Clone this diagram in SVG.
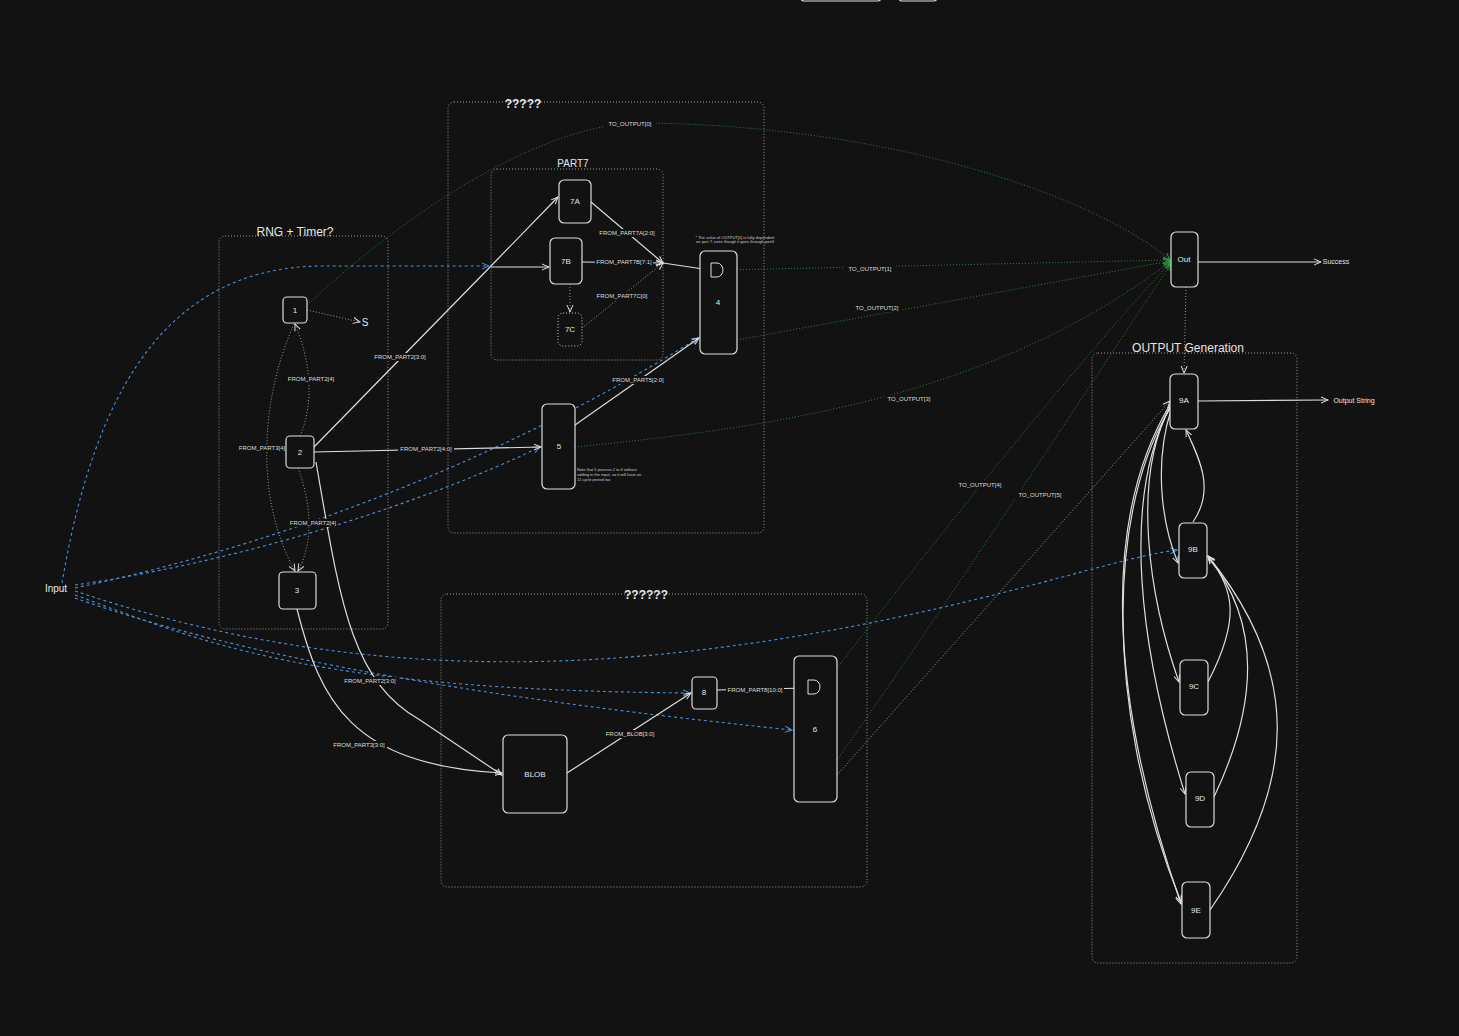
<svg xmlns="http://www.w3.org/2000/svg" width="1459" height="1036" viewBox="0 0 1459 1036">
<defs>
<marker id="aw" markerWidth="8" markerHeight="8" refX="7" refY="4" orient="auto" markerUnits="userSpaceOnUse"><path d="M0,1 L7,4 L0,7" fill="none" stroke="#ddd" stroke-width="1"/></marker>
<marker id="ab" markerWidth="8" markerHeight="8" refX="7" refY="4" orient="auto" markerUnits="userSpaceOnUse"><path d="M0,1 L7,4 L0,7" fill="none" stroke="#4a90d9" stroke-width="1"/></marker>
<marker id="ag" markerWidth="8" markerHeight="8" refX="7" refY="4" orient="auto" markerUnits="userSpaceOnUse"><path d="M0,1 L7,4 L0,7" fill="none" stroke="#2f9a3f" stroke-width="1"/></marker>
</defs>
<style>
text{font-family:"Liberation Sans",Arial,sans-serif;fill:#e6e6e6;text-anchor:middle}
.grp{fill:none;stroke:#999;stroke-width:1;stroke-dasharray:1 2}
.nd{fill:#121212;stroke:#ddd;stroke-width:1.2}
.ndd{fill:#121212;stroke:#ccc;stroke-width:1;stroke-dasharray:1 2}
.t{font-size:12px;font-weight:bold}
.n{font-size:8px}
.l{font-size:6px;fill:#ddd}
.w{fill:none;stroke:#ddd;stroke-width:1.2;marker-end:url(#aw)}
.wd{fill:none;stroke:#bbb;stroke-width:0.8;stroke-dasharray:1 2;marker-end:url(#aw)}
.b{fill:none;stroke:#4a90d9;stroke-width:1.1;stroke-dasharray:3 3;marker-end:url(#ab)}
.g{fill:none;stroke:#2f8a3a;stroke-width:0.9;stroke-dasharray:1 2;marker-end:url(#ag)}
.lb{fill:#121212;stroke:none}
.gate{fill:none;stroke:#ddd;stroke-width:1}
</style>
<rect width="1459" height="1036" fill="#121212"/>
<rect x="801" y="-10" width="80" height="11" rx="3" class="nd"/>
<rect x="899" y="-10" width="38" height="11" rx="3" class="nd"/>

<g id="groups">
<rect x="219" y="236" width="169" height="393" rx="6" class="grp"/>
<text x="295" y="236" style="font-size:12px">RNG + Timer?</text>
<rect x="448" y="102" width="316" height="431" rx="6" class="grp"/>
<text x="523" y="108" class="t">?????</text>
<rect x="491" y="169" width="172" height="191" rx="6" class="grp"/>
<text x="573" y="167" style="font-size:10px">PART7</text>
<rect x="441" y="594" width="426" height="293" rx="6" class="grp"/>
<text x="646" y="599" class="t">??????</text>
<rect x="1092" y="353" width="205" height="610" rx="6" class="grp"/>
<text x="1188" y="352" style="font-size:12px">OUTPUT Generation</text>
</g>

<g id="connectors">
<path class="b" d="M62,583 C90,420 150,268 320,266 L489,266"/>
<path class="b" d="M75,588 C300,540 520,450 698,338"/>
<path class="b" d="M75,585 C250,560 430,500 540,447"/>
<path class="b" d="M75,591 C250,650 450,680 700,650 S1100,560 1177,550"/>
<path class="b" d="M75,595 C200,640 300,690 690,693"/>
<path class="b" d="M75,598 C250,660 500,700 792,730"/>

<path class="g" d="M307,305 C420,200 550,123 640,123 C900,125 1100,200 1170,260"/>
<path class="g" d="M725,270 L1170,260"/>
<path class="g" d="M737,340 L1170,261"/>
<path class="g" d="M575,447 C800,425 1000,390 1170,262"/>
<path class="g" d="M822,688 C950,520 1080,360 1170,263"/>
<path class="g" d="M837,760 C950,600 1080,400 1171,264"/>
<path class="wd" d="M837,775 L1170,401"/>
<path class="wd" d="M1186,287 L1184,373"/>
<path class="wd" d="M307,310 L360,322"/>

<path class="w" d="M314,447 L491,266 L558,197"/>
<path class="w" d="M491,267 L549,267"/>
<path class="w" d="M314,452 L541,447"/>
<path class="w" d="M316,462 C340,600 350,680 420,720 L502,775"/>
<path class="w" d="M297,609 C320,700 350,765 502,773"/>
<path class="wd" d="M300,436 C315,400 310,360 295,324"/>
<path class="wd" d="M294,324 C260,400 255,500 295,571"/>
<path class="wd" d="M298,468 C310,500 315,540 298,571"/>
<path class="w" d="M591,202 L663,263"/>
<path class="w" d="M582,262 L663,263"/>
<path class="wd" d="M570,284 L570,312"/>
<path class="wd" d="M582,328 L663,263"/>
<path class="w" d="M663,263 L710,270"/>
<path class="w" d="M575,425 L699,338"/>
<path class="w" d="M700,340 L736,337"/>
<path class="w" d="M567,773 L691,693"/>
<path class="w" d="M717,690 L807,688"/>
<path class="w" d="M1198,262 L1321,262"/>
<path class="w" d="M1198,401 L1328,400"/>

<path class="w" d="M1171,410 C1155,460 1160,520 1178,563"/>
<path class="w" d="M1193,522 C1215,490 1200,460 1186,430"/>
<path class="w" d="M1171,405 C1130,480 1150,600 1179,682"/>
<path class="w" d="M1171,405 C1120,500 1140,650 1185,794"/>
<path class="w" d="M1171,403 C1100,520 1110,700 1181,904"/>
<path class="w" d="M1173,404 C1110,500 1100,700 1181,902"/>
<path class="w" d="M1208,682 C1240,620 1235,590 1208,556"/>
<path class="w" d="M1214,797 C1260,700 1260,620 1208,557"/>
<path class="w" d="M1210,910 C1300,780 1300,670 1208,556"/>

<g>
<rect class="lb" x="604" y="120" width="52" height="8"/><text x="630" y="126" class="l">TO_OUTPUT[0]</text>
<rect class="lb" x="845" y="265" width="50" height="8"/><text x="870" y="271" class="l">TO_OUTPUT[1]</text>
<rect class="lb" x="852" y="304" width="50" height="8"/><text x="877" y="310" class="l">TO_OUTPUT[2]</text>
<rect class="lb" x="884" y="395" width="50" height="8"/><text x="909" y="401" class="l">TO_OUTPUT[3]</text>
<rect class="lb" x="955" y="481" width="50" height="8"/><text x="980" y="487" class="l">TO_OUTPUT[4]</text>
<rect class="lb" x="1015" y="491" width="50" height="8"/><text x="1040" y="497" class="l">TO_OUTPUT[5]</text>
<rect class="lb" x="372" y="353" width="56" height="8"/><text x="400" y="359" class="l">FROM_PART2[3:0]</text>
<rect class="lb" x="398" y="445" width="56" height="8"/><text x="426" y="451" class="l">FROM_PART2[4:0]</text>
<rect class="lb" x="342" y="677" width="56" height="8"/><text x="370" y="683" class="l">FROM_PART2[3:0]</text>
<rect class="lb" x="331" y="741" width="56" height="8"/><text x="359" y="747" class="l">FROM_PART3[3:0]</text>
<rect class="lb" x="286" y="375" width="50" height="8"/><text x="311" y="381" class="l">FROM_PART2[4]</text>
<rect class="lb" x="237" y="444" width="50" height="8"/><text x="262" y="450" class="l">FROM_PART3[4]</text>
<rect class="lb" x="288" y="519" width="50" height="8"/><text x="313" y="525" class="l">FROM_PART2[4]</text>
<rect class="lb" x="598" y="229" width="58" height="8"/><text x="627" y="235" class="l">FROM_PART7A[2:0]</text>
<rect class="lb" x="595" y="258" width="58" height="8"/><text x="624" y="264" class="l">FROM_PART7B[7:1]</text>
<rect class="lb" x="596" y="292" width="52" height="8"/><text x="622" y="298" class="l">FROM_PART7C[0]</text>
<rect class="lb" x="610" y="376" width="56" height="8"/><text x="638" y="382" class="l">FROM_PART5[2:0]</text>
<rect class="lb" x="603" y="730" width="54" height="8"/><text x="630" y="736" class="l">FROM_BLOB[3:0]</text>
<rect class="lb" x="726" y="686" width="58" height="8"/><text x="755" y="692" class="l">FROM_PART8[10:0]</text>
</g>
</g>

<g id="n-input"><text x="56" y="592" style="font-size:10px">Input</text></g>
<g id="n-1"><rect x="283" y="297" width="24" height="26" rx="4" class="nd"/><text x="295" y="313" class="n">1</text></g>
<g id="n-S"><text x="365" y="326" style="font-size:10px">S</text></g>
<g id="n-2"><rect x="286" y="436" width="28" height="32" rx="4" class="nd"/><text x="300" y="455" class="n">2</text></g>
<g id="n-3"><rect x="279" y="572" width="37" height="37" rx="4" class="nd"/><text x="297" y="593" class="n">3</text></g>
<g id="n-7A"><rect x="559" y="180" width="32" height="43" rx="5" class="nd"/><text x="575" y="204" class="n">7A</text></g>
<g id="n-7B"><rect x="550" y="238" width="32" height="46" rx="5" class="nd"/><text x="566" y="264" class="n">7B</text></g>
<g id="n-7C"><rect x="558" y="313" width="24" height="33" rx="5" class="ndd"/><text x="570" y="332" class="n">7C</text></g>
<g id="n-4"><rect x="700" y="251" width="37" height="103" rx="5" class="nd"/><path d="M711,263 L717,263 A6,7 0 0 1 717,277 L711,277 Z" class="gate"/><text x="718" y="305" class="n">4</text>
<text x="735" y="239" style="font-size:4px;fill:#ccc">* The value of OUTPUT[1] is fully dependent</text><text x="735" y="243" style="font-size:4px;fill:#ccc">on part 7, even though it goes through part4</text></g>
<g id="n-5"><rect x="542" y="404" width="33" height="85" rx="5" class="nd"/><text x="559" y="449" class="n">5</text>
<text x="577" y="471" style="font-size:4px;fill:#ccc;text-anchor:start">Note that 5 process 2 to 4 without</text><text x="577" y="476" style="font-size:4px;fill:#ccc;text-anchor:start">adding in the input, so it will have an</text><text x="577" y="481" style="font-size:4px;fill:#ccc;text-anchor:start">11 cycle period too</text></g>
<g id="n-BLOB"><rect x="503" y="735" width="64" height="78" rx="5" class="nd"/><text x="535" y="777" class="n">BLOB</text></g>
<g id="n-8"><rect x="692" y="677" width="25" height="32" rx="4" class="nd"/><text x="704" y="695" class="n">8</text></g>
<g id="n-6"><rect x="794" y="656" width="43" height="146" rx="5" class="nd"/><path d="M808,680 L814,680 A6,7 0 0 1 814,694 L808,694 Z" class="gate"/><text x="815" y="732" class="n">6</text></g>
<g id="n-Out"><rect x="1171" y="232" width="27" height="55" rx="5" class="nd"/><text x="1184" y="262" class="n">Out</text></g>
<g id="n-Success"><text x="1336" y="264" style="font-size:7px">Success</text></g>
<g id="n-9A"><rect x="1170" y="374" width="28" height="55" rx="5" class="nd"/><text x="1184" y="403" class="n">9A</text></g>
<g id="n-OutStr"><text x="1354" y="403" style="font-size:7px">Output String</text></g>
<g id="n-9B"><rect x="1179" y="523" width="28" height="55" rx="5" class="nd"/><text x="1193" y="552" class="n">9B</text></g>
<g id="n-9C"><rect x="1180" y="660" width="28" height="55" rx="5" class="nd"/><text x="1194" y="689" class="n">9C</text></g>
<g id="n-9D"><rect x="1186" y="772" width="28" height="55" rx="5" class="nd"/><text x="1200" y="801" class="n">9D</text></g>
<g id="n-9E"><rect x="1182" y="882" width="28" height="56" rx="5" class="nd"/><text x="1196" y="913" class="n">9E</text></g>
</svg>
